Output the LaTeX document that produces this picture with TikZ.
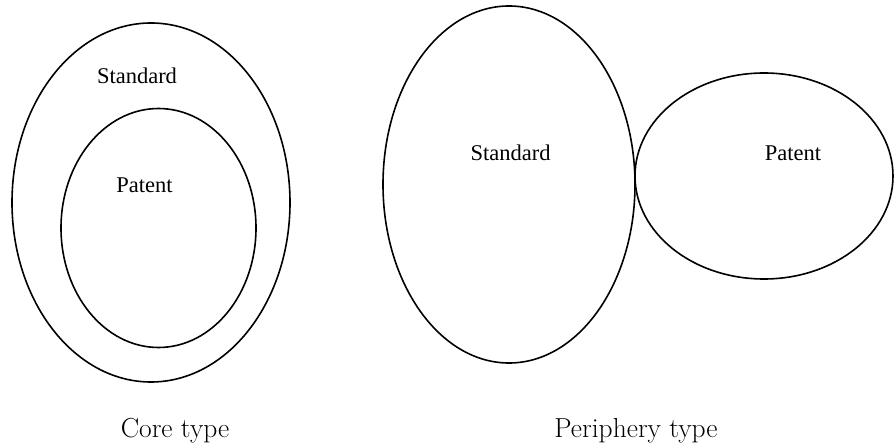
\documentclass[tikz,border=0pt]{standalone}
\usepackage{fontspec}
\newfontfamily\timesf{Liberation Serif}
\begin{document}
\begin{tikzpicture}[x=1pt,y=-1pt,
  ring/.style={draw=black,line width=1.6pt},
  inlabel/.style={anchor=base,inner sep=0pt,font=\timesf\fontsize{22.5}{27}\selectfont},
  caption/.style={anchor=base,inner sep=0pt,font=\fontsize{27.5}{33}\selectfont}]
\useasboundingbox (0,0) rectangle (894,443);
\draw[ring] (151,202.5) ellipse [x radius=139, y radius=179.5];
\draw[ring] (158.5,228) ellipse [x radius=97.5, y radius=119.5];
\draw[ring] (509,184.5) ellipse [x radius=126, y radius=178.5];
\draw[ring] (764,176) ellipse [x radius=129, y radius=103];
\node[inlabel] (s1) at (137,84) {Standard};
\node[inlabel] (p1) at (144.5,193) {Patent};
\node[inlabel] (s2) at (510.5,161) {Standard};
\node[inlabel] (p2) at (793,161) {Patent};
\node[caption] (c1) at (175,437) {Core type};
\node[caption] (c2) at (636,437) {Periphery type};
\end{tikzpicture}
\end{document}
